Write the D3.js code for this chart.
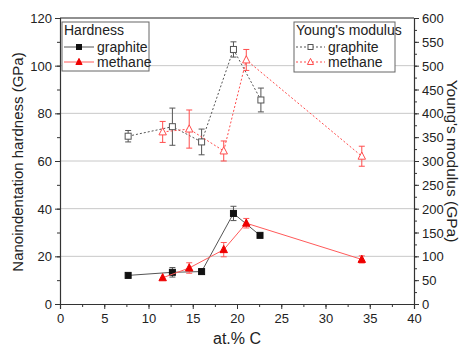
<!DOCTYPE html>
<html>
<head>
<meta charset="utf-8">
<script src="https://cdn.jsdelivr.net/npm/d3@7"></script>
<style>
  html, body { margin: 0; padding: 0; background: #fff; }
  svg { display: block; font-family: "Liberation Sans", Arial, sans-serif; }
</style>
</head>
<body>
<div id="chart"></div>
<script>
// Hardness (left axis, GPa)
const hardGraphiteX = [7.7, 12.7, 16.0, 19.6, 22.6];
const hardGraphiteY = [12.0, 13.3, 13.6, 38.0, 28.8];
const hardGraphiteErr = [0, 2.0, 1.0, 3.0, 0];

const hardMethaneX = [11.6, 14.6, 18.5, 21.05, 34.1];
const hardMethaneY = [11.0, 15.1, 22.8, 33.9, 18.7];
const hardMethaneErr = [0, 2.2, 3.0, 2.0, 1.5];

// Young's modulus (right axis, GPa)
const ymGraphiteX = [7.7, 12.7, 16.0, 19.6, 22.7];
const ymGraphiteY = [352, 372, 340, 534, 428];
const ymGraphiteErr = [12, 39, 27, 16, 25];

const ymMethaneX = [11.6, 14.6, 18.5, 21.05, 34.1];
const ymMethaneY = [361, 367, 321, 512, 310];
const ymMethaneErr = [22, 40, 21, 22, 21];

const xTicks = [0, 5, 10, 15, 20, 25, 30, 35, 40];
const yLeftTicks = [0, 20, 40, 60, 80, 100, 120];
const yRightTicks = [0, 50, 100, 150, 200, 250, 300, 350, 400, 450, 500, 550, 600];

const config = {
  width: 464,
  height: 348,
  margin: { top: 18, right: 50, bottom: 44, left: 60 },
};

const { width, height, margin } = config;
const innerWidth = width - margin.left - margin.right;
const innerHeight = height - margin.top - margin.bottom;

const svg = d3.select("#chart").append("svg")
  .attr("width", width)
  .attr("height", height);

const g = svg.append("g")
  .attr("transform", `translate(${margin.left}, ${margin.top})`);

const x = d3.scaleLinear().domain([0, 40]).range([0, innerWidth]);
const yL = d3.scaleLinear().domain([0, 120]).range([innerHeight, 0]);
const yR = d3.scaleLinear().domain([0, 600]).range([innerHeight, 0]);

// Gridlines
g.append("g")
  .selectAll("line")
  .data([20, 40, 60, 80, 100])
  .enter()
  .append("line")
  .attr("x1", 0)
  .attr("x2", innerWidth)
  .attr("y1", (d) => yL(d))
  .attr("y2", (d) => yL(d))
  .attr("stroke", "#c8c8c8")
  .attr("stroke-width", 1);

// Top frame line
g.append("line")
  .attr("x1", 0).attr("x2", innerWidth)
  .attr("y1", 0).attr("y2", 0)
  .attr("stroke", "#222").attr("stroke-width", 1.2);

const axisColor = "#333";

function styleAxis(sel, vertical) {
  sel.attr("font-family", null).attr("font-size", null);
  sel.selectAll("path").attr("stroke", axisColor).attr("stroke-width", 1.2);
  sel.selectAll("line").attr("stroke", axisColor);
  const t = sel.selectAll("text")
    .attr("fill", "#222")
    .attr("dy", null)
    .style("font-size", "13px");
  // explicit baselines instead of em offsets
  if (vertical) t.attr("y", 4.5);
  else t.attr("y", 19);
}

// Minor ticks (no labels)
function drawMinor(sel) {
  sel.call(styleAxis);
  sel.selectAll("text").remove();
  sel.select("path").remove();
}

// X axis
g.append("g")
  .attr("transform", `translate(0, ${innerHeight})`)
  .call(d3.axisBottom(x).tickValues(d3.range(0, 40.01, 2.5)).tickSize(3))
  .call(drawMinor);
g.append("g")
  .attr("transform", `translate(0, ${innerHeight})`)
  .call(d3.axisBottom(x).tickValues(xTicks).tickSize(5).tickPadding(3))
  .call(styleAxis, false);

// Left axis
g.append("g")
  .call(d3.axisLeft(yL).tickValues(d3.range(0, 120.01, 10)).tickSize(3))
  .call(drawMinor);
g.append("g")
  .call(d3.axisLeft(yL).tickValues(yLeftTicks).tickSize(5).tickPadding(3))
  .call(styleAxis, true);

// Right axis
g.append("g")
  .attr("transform", `translate(${innerWidth}, 0)`)
  .call(d3.axisRight(yR).tickValues(d3.range(0, 600.01, 25)).tickSize(3))
  .call(drawMinor);
g.append("g")
  .attr("transform", `translate(${innerWidth}, 0)`)
  .call(d3.axisRight(yR).tickValues(yRightTicks).tickSize(5).tickPadding(3))
  .call(styleAxis, true);

// Axis titles
svg.append("text")
  .attr("transform", `translate(23, ${margin.top + innerHeight / 2 + 1}) rotate(-90)`)
  .attr("text-anchor", "middle")
  .style("font-size", "15px")
  .attr("fill", "#222")
  .text("Nanoindentation hardness (GPa)");

svg.append("text")
  .attr("transform", `translate(447, ${margin.top + innerHeight / 2}) rotate(90)`)
  .attr("text-anchor", "middle")
  .style("font-size", "15.5px")
  .attr("fill", "#222")
  .text("Young's modulus (GPa)");

svg.append("text")
  .attr("x", margin.left + innerWidth / 2)
  .attr("y", 344)
  .attr("text-anchor", "middle")
  .style("font-size", "16px")
  .attr("fill", "#222")
  .text("at.% C");

// Series
const series = [
  { xs: ymGraphiteX, ys: ymGraphiteY, errs: ymGraphiteErr, y: yR, color: "#555", marker: "square", filled: false, dash: "2,2", lw: 1 },
  { xs: ymMethaneX, ys: ymMethaneY, errs: ymMethaneErr, y: yR, color: "#ff4d4d", marker: "triangle", filled: false, dash: "2,2", lw: 1 },
  { xs: hardGraphiteX, ys: hardGraphiteY, errs: hardGraphiteErr, y: yL, color: "#111", line: "#555", marker: "square", filled: true, dash: null, lw: 1 },
  { xs: hardMethaneX, ys: hardMethaneY, errs: hardMethaneErr, y: yL, color: "#ee0000", line: "#ff5a5a", marker: "triangle", filled: true, dash: null, lw: 1 },
];

function drawMarker(sel, marker, color, filled, size) {
  if (marker === "square") {
    sel.append("rect")
      .attr("x", -size / 2).attr("y", -size / 2)
      .attr("width", size).attr("height", size)
      .attr("fill", filled ? color : "#fff")
      .attr("stroke", color)
      .attr("stroke-width", 1);
  } else {
    const s = size * 0.62;
    sel.append("path")
      .attr("d", `M0,${-s - 0.5}L${s},${s * 0.8}L${-s},${s * 0.8}Z`)
      .attr("fill", filled ? color : "#fff")
      .attr("stroke", color)
      .attr("stroke-width", 1);
  }
}

series.forEach((s) => {
  const pts = s.xs.map((xv, i) => ({ x: xv, y: s.ys[i], e: s.errs[i] }));
  const lineColor = s.line || s.color;

  g.append("path")
    .datum(pts)
    .attr("fill", "none")
    .attr("stroke", lineColor)
    .attr("stroke-width", s.lw)
    .attr("stroke-dasharray", s.dash)
    .attr("d", d3.line().x((d) => x(d.x)).y((d) => s.y(d.y)));

  // Error bars
  const eb = g.append("g");
  pts.filter((d) => d.e > 0).forEach((d) => {
    const cx = x(d.x);
    const y1 = s.y(d.y - d.e);
    const y2 = s.y(d.y + d.e);
    eb.append("line").attr("x1", cx).attr("x2", cx).attr("y1", y1).attr("y2", y2)
      .attr("stroke", lineColor).attr("stroke-width", 1);
    [y1, y2].forEach((yy) => {
      eb.append("line").attr("x1", cx - 3).attr("x2", cx + 3).attr("y1", yy).attr("y2", yy)
        .attr("stroke", lineColor).attr("stroke-width", 1);
    });
  });

  pts.forEach((d) => {
    const m = g.append("g").attr("transform", `translate(${x(d.x)}, ${s.y(d.y)})`);
    drawMarker(m, s.marker, s.color, s.filled, 6);
  });
});

// Legends
function legend(x0, y0, w, h, title, items) {
  const lg = svg.append("g");
  lg.append("rect")
    .attr("x", x0).attr("y", y0).attr("width", w).attr("height", h)
    .attr("fill", "#fff").attr("stroke", "#666").attr("stroke-width", 1);
  lg.append("text")
    .attr("x", x0 + 2).attr("y", y0 + 13)
    .style("font-size", "14px").attr("fill", "#222")
    .text(title);
  items.forEach((it, i) => {
    const yy = y0 + 25 + i * 15;
    lg.append("line")
      .attr("x1", x0 + 2).attr("x2", x0 + it.lineLen)
      .attr("y1", yy).attr("y2", yy)
      .attr("stroke", it.line).attr("stroke-dasharray", it.dash)
      .attr("stroke-width", 1);
    const m = lg.append("g").attr("transform", `translate(${x0 + 2 + (it.lineLen - 2) / 2}, ${yy})`);
    drawMarker(m, it.marker, it.color, it.filled, 5);
    lg.append("text")
      .attr("x", x0 + it.lineLen + 3).attr("y", yy + 5)
      .style("font-size", "14px").attr("fill", "#222")
      .text(it.label);
  });
}

legend(62, 22, 87, 49, "Hardness", [
  { label: "graphite", line: "#555", color: "#111", marker: "square", filled: true, dash: null, lineLen: 32 },
  { label: "methane", line: "#ff5a5a", color: "#ee0000", marker: "triangle", filled: true, dash: null, lineLen: 32 },
]);

legend(294, 22, 101, 50, "Young's modulus", [
  { label: "graphite", line: "#555", color: "#555", marker: "square", filled: false, dash: "2,2", lineLen: 31 },
  { label: "methane", line: "#ff4d4d", color: "#ff4d4d", marker: "triangle", filled: false, dash: "2,2", lineLen: 31 },
]);
</script>
</body>
</html>
